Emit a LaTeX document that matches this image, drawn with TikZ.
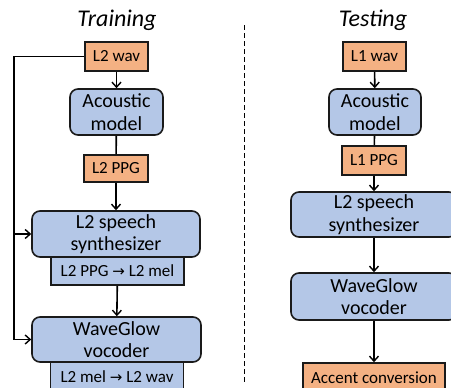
\documentclass[tikz,border=0pt]{standalone}
\usepackage{fontspec}
\setmainfont{Carlito}
\newfontfamily\arrowfont{DejaVu Sans}
\usetikzlibrary{arrows.meta,calc}
\definecolor{boxorange}{HTML}{F4B183}
\definecolor{boxblue}{HTML}{B4C7E7}
\definecolor{edge}{HTML}{1A1A1A}
\newcommand{\rarr}{{\arrowfont\fontsize{15}{17}\selectfont →}}
\tikzset{
  databox/.style={draw=edge, line width=1.6pt, fill=boxorange, inner sep=0pt, align=center,
    font=\fontsize{17}{20}\selectfont},
  modbox/.style={draw=edge, line width=1.6pt, fill=boxblue, rounded corners=8pt, inner sep=0pt, align=center,
    font=\fontsize{20}{22.5}\selectfont},
  subbox/.style={draw=edge, line width=1.6pt, fill=boxblue, inner sep=0pt, align=center,
    font=\fontsize{17}{20}\selectfont},
  conn/.style={draw=black, line width=1.6pt},
  arr/.style={conn, -{Straight Barb[length=5pt,width=9pt,line width=1.4pt]}},
  title/.style={font=\fontsize{24}{28}\selectfont\itshape, inner sep=0pt},
}
\begin{document}
\begin{tikzpicture}[x=1pt,y=-1pt]
\useasboundingbox (0,0) rectangle (451,388);
\clip (0,0) rectangle (451,388);
% ---------- Training ----------
\node[title] (ttrain) at (117,20) {Training};
\node[databox, minimum width=63pt, minimum height=29pt] (l2wav) at (116.5,56.5) {L2 wav};
\node[modbox, minimum width=93pt, minimum height=46pt] (am1) at (116.5,112) {Acoustic\\model};
\node[databox, minimum width=64pt, minimum height=27pt] (l2ppg) at (116,168.5) {L2 PPG};
\node[subbox, minimum width=133pt, minimum height=28pt] (sub1) at (117.5,271) {L2 PPG \rarr{} L2 mel};
\node[modbox, minimum width=168pt, minimum height=46pt] (syn1) at (116,234) {L2 speech\\synthesizer};
\node[subbox, minimum width=133pt, minimum height=30pt] (sub2) at (117,377) {L2 mel \rarr{} L2 wav};
\node[modbox, minimum width=169pt, minimum height=45pt] (wg1) at (116.5,339.5) {WaveGlow\\vocoder};
\coordinate (fbx) at (14,0);
\draw[arr] (l2wav) -- (am1);
\draw[conn] (am1) -- (l2ppg);
\draw[arr] (l2ppg) -- (syn1);
\draw[arr] (sub1) -- (wg1);
\draw[arr] (l2wav.west) -| (fbx |- wg1.west) -- (wg1.west);
\draw[arr] (fbx |- syn1.west) -- (syn1.west);
% ---------- divider ----------
\coordinate (dtop) at (244,25);
\coordinate (dbot) at (244,384);
\draw[line width=1pt, dash pattern=on 5pt off 3pt] (dtop) -- (dbot);
% ---------- Testing ----------
\node[title] (ttest) at (373,20) {Testing};
\node[databox, minimum width=63pt, minimum height=29pt] (l1wav) at (374.5,56.5) {L1 wav};
\node[modbox, minimum width=92pt, minimum height=46pt] (am2) at (375,112) {Acoustic\\model};
\node[databox, minimum width=64pt, minimum height=29pt] (l1ppg) at (374,160.5) {L1 PPG};
\node[modbox, minimum width=166pt, minimum height=45pt] (syn2) at (374,214.5) {L2 speech\\synthesizer};
\node[modbox, minimum width=166pt, minimum height=47pt] (wg2) at (374,296.5) {WaveGlow\\vocoder};
\node[databox, minimum width=142pt, minimum height=30pt] (acc) at (374,378) {Accent conversion};
\draw[arr] (l1wav) -- (am2);
\draw[conn] (am2) -- (l1ppg);
\draw[arr] (l1ppg) -- (syn2);
\draw[arr] (syn2) -- (wg2);
\draw[arr] (wg2) -- (acc);
\end{tikzpicture}
\end{document}
